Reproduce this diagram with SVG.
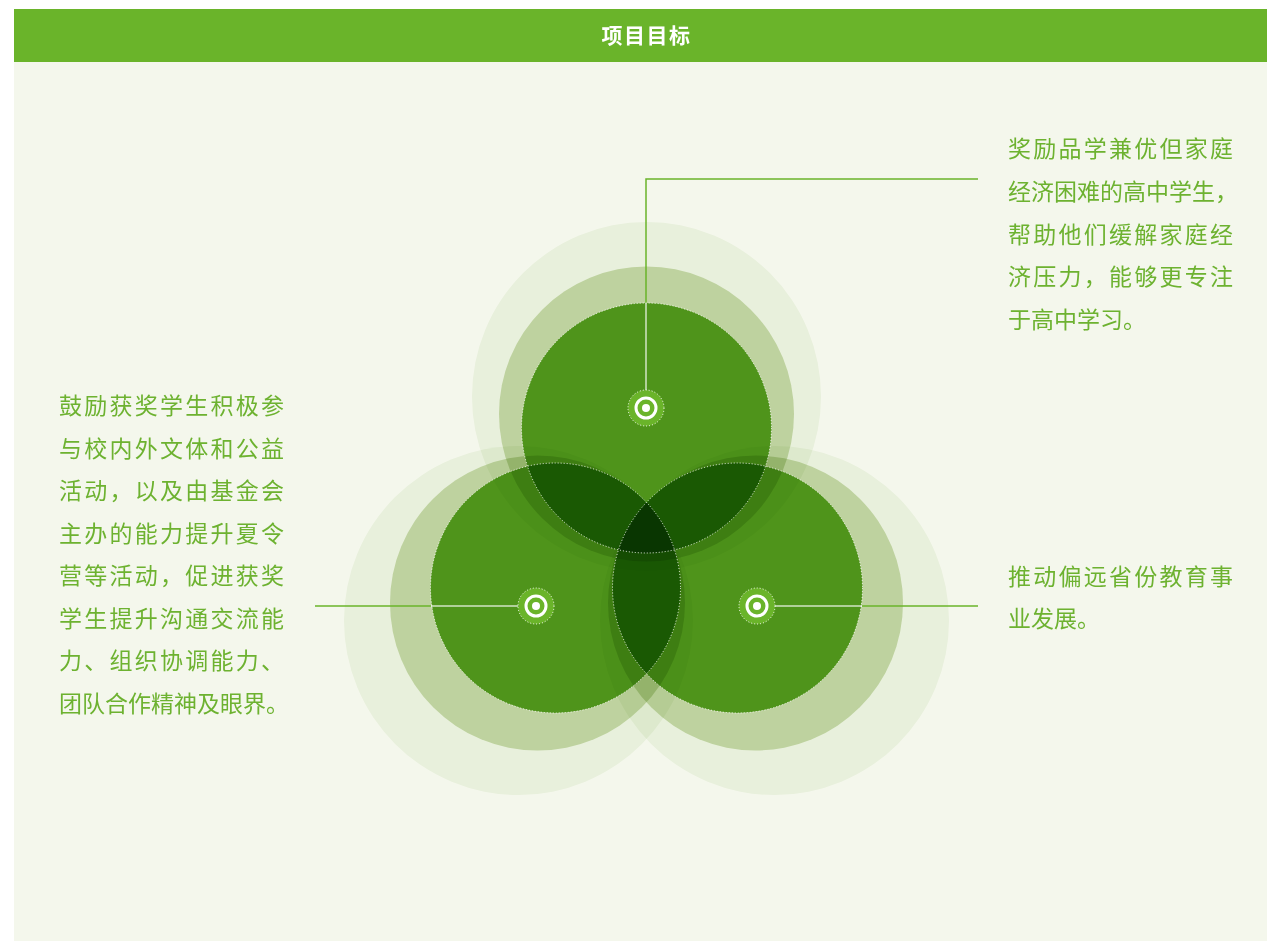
<svg xmlns="http://www.w3.org/2000/svg" width="1267" height="941" viewBox="0 0 1267 941">
<style>
.bl{mix-blend-mode:multiply}
.o{fill:#f3f8ee}
.m{fill:#d1e0b8}
.i{fill:#6ab42a}
.dot{fill:none;stroke:#fff;stroke-width:1;stroke-dasharray:1 2;opacity:.9}
.ic{fill:#6ab42a;stroke:#fff;stroke-width:1;stroke-dasharray:1 2}
.ring{fill:none;stroke:#fff;stroke-width:3}
.ctr{fill:#fff}
.txt{font-family:"Noto Sans CJK SC","Noto Sans",sans-serif;font-size:23px;letter-spacing:0px;fill:#6db230}
.j{letter-spacing:2.25px}
.ln{fill:none;stroke:#6ab42a;stroke-width:1.5}
.lw{fill:none;stroke:#fff;stroke-width:1.5;opacity:.75}
</style>
<rect x="14" y="62" width="1253" height="879" fill="#f4f7ec"/>
<rect x="14" y="9" width="1253" height="53" fill="#6ab42a"/>
<text x="646.5" y="43" text-anchor="middle" font-family="'Noto Sans CJK SC','Noto Sans',sans-serif" font-size="21" font-weight="bold" letter-spacing="1.5" fill="#fff">项目目标</text>
<g id="rings">
<circle class="bl o" cx="646.5" cy="396.5" r="174.5"/>
<circle class="bl o" cx="518.5" cy="620.5" r="174.5"/>
<circle class="bl o" cx="774.5" cy="620.5" r="174.5"/>
<circle class="bl m" cx="646.5" cy="414" r="147.5"/>
<circle class="bl m" cx="537.5" cy="603" r="147.5"/>
<circle class="bl m" cx="755.5" cy="603" r="147.5"/>
<circle class="bl i" cx="646.5" cy="428" r="125"/>
<circle class="bl i" cx="555.5" cy="588" r="125"/>
<circle class="bl i" cx="737.5" cy="588" r="125"/>
</g>
<g id="connectors">
<polyline class="ln" points="646,303 646,179 978,179"/>
<line class="lw" x1="646" y1="390" x2="646" y2="303"/>
<line class="ln" x1="315" y1="606" x2="431" y2="606"/>
<line class="lw" x1="431" y1="606" x2="518" y2="606"/>
<line class="lw" x1="775" y1="606" x2="862" y2="606"/>
<line class="ln" x1="862" y1="606" x2="978" y2="606"/>
</g>
<g id="goal-top">
<circle class="dot" cx="646.5" cy="428" r="125"/>
<circle class="ic" cx="646" cy="408" r="18"/>
<circle class="ring" cx="646" cy="408" r="10"/>
<circle class="ctr" cx="646" cy="408" r="4"/>
<text class="txt"><tspan class="j" x="1008" y="157">奖励品学兼优但家庭</tspan><tspan x="1008" y="200">经济困难的高中学生，</tspan><tspan class="j" x="1008" y="243">帮助他们缓解家庭经</tspan><tspan class="j" x="1008" y="285">济压力，能够更专注</tspan><tspan x="1008" y="328">于高中学习。</tspan></text>
</g>
<g id="goal-left">
<circle class="dot" cx="555.5" cy="588" r="125"/>
<circle class="ic" cx="536" cy="606" r="18"/>
<circle class="ring" cx="536" cy="606" r="10"/>
<circle class="ctr" cx="536" cy="606" r="4"/>
<text class="txt"><tspan class="j" x="59" y="414">鼓励获奖学生积极参</tspan><tspan class="j" x="59" y="456.5">与校内外文体和公益</tspan><tspan class="j" x="59" y="499">活动，以及由基金会</tspan><tspan class="j" x="59" y="541.5">主办的能力提升夏令</tspan><tspan class="j" x="59" y="584">营等活动，促进获奖</tspan><tspan class="j" x="59" y="626.5">学生提升沟通交流能</tspan><tspan class="j" x="59" y="669">力、组织协调能力、</tspan><tspan x="59" y="711.5">团队合作精神及眼界。</tspan></text>
</g>
<g id="goal-right">
<circle class="dot" cx="737.5" cy="588" r="125"/>
<circle class="ic" cx="757" cy="606" r="18"/>
<circle class="ring" cx="757" cy="606" r="10"/>
<circle class="ctr" cx="757" cy="606" r="4"/>
<text class="txt"><tspan class="j" x="1008" y="585">推动偏远省份教育事</tspan><tspan x="1008" y="627">业发展。</tspan></text>
</g>
</svg>
